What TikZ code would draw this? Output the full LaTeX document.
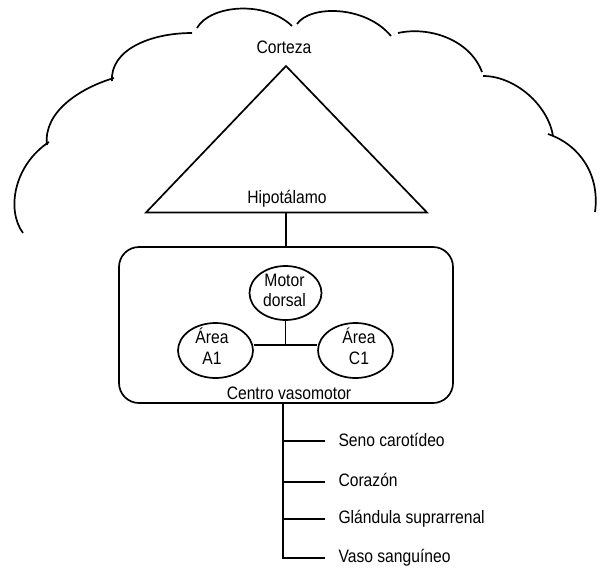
\documentclass[tikz,border=0pt]{standalone}
\usepackage{fontspec}
\setmainfont{Liberation Sans}[FakeStretch=0.87]
\usetikzlibrary{shapes.geometric}
\begin{document}
\begin{tikzpicture}[x=1pt,y=-1pt,
  ln/.style={line width=1.7pt},
  lbl/.style={inner sep=0pt,anchor=base,font=\fontsize{18}{20}\selectfont},
  itemlbl/.style={lbl,anchor=base west},
  oval/.style={ellipse,draw,ln,inner sep=0pt},
  ctrbox/.style={draw,ln,rounded corners=20pt,inner sep=0pt,
    minimum width=334pt,minimum height=156pt}]
\useasboundingbox (0,0) rectangle (601,570);

% cortex outline (cloud made of open arcs)
\draw[ln] (23,233) .. controls (6,210) and (14,165) .. (49,142);
\draw[ln] (47,145) .. controls (43,112) and (80,88) .. (114,78);
\draw[ln] (112,81) .. controls (110,50) and (150,33) .. (192,33);
\draw[ln] (197,28) .. controls (210,5) and (265,0) .. (292,26);
\draw[ln] (297,24) .. controls (310,5) and (365,5) .. (391,36);
\draw[ln] (398,33) .. controls (430,26) and (470,40) .. (482,72);
\draw[ln] (483,76) .. controls (515,76) and (548,105) .. (553,136);
\draw[ln] (548,134) .. controls (580,145) and (600,175) .. (595,212);
\node[lbl] (corteza) at (284,53.3) {Corteza};

% hypothalamus triangle
\coordinate (apex) at (286,66);
\coordinate (bl) at (146,212.5);
\coordinate (br) at (427,212.5);
\coordinate (hbase) at (286,212.5);
\draw[ln,line join=miter] (apex) -- (bl) -- (br) -- cycle;
\node[lbl] (hipo) at (287,203.3) {Hipotálamo};

% vasomotor centre
\node[ctrbox] (vc) at (286,325) {};
\draw[ln] (hbase) -- (vc.north);

\node[oval,minimum width=72pt,minimum height=54pt] (md) at (285.5,293) {};
\node[oval,minimum width=75pt,minimum height=55pt] (a1) at (215.5,350.5) {};
\node[oval,minimum width=75pt,minimum height=55pt] (c1) at (355.5,350.5) {};
\node[lbl] (mdt1) at (284.5,286.7) {Motor};
\node[lbl] (mdt2) at (284.5,306.7) {dorsal};
\node[lbl] (a1t1) at (212,343.3) {Área};
\node[lbl] (a1t2) at (212,364) {A1};
\node[lbl] (c1t1) at (359,343.3) {Área};
\node[lbl] (c1t2) at (359,364) {C1};
\node[lbl] (vct) at (289,399.3) {Centro vasomotor};

\coordinate (j) at (285.5,345);
\draw[ln] (md.south) -- (j);
\draw[ln] (j -| a1.east) -- (j -| c1.west);

% efferent targets
\coordinate (t1) at (283.3,441);
\coordinate (t2) at (283.3,482);
\coordinate (t3) at (283.3,519);
\coordinate (t4) at (283.3,558);
\node[itemlbl] (seno) at (338.3,446.3) {Seno carotídeo};
\node[itemlbl] (cor) at (338.3,486.7) {Corazón};
\node[itemlbl] (glan) at (338.3,523.6) {Glándula suprarrenal};
\node[itemlbl] (vaso) at (338.3,562) {Vaso sanguíneo};
\draw[ln] (vc.south -| t4) -- (t4) -- ([xshift=-13pt]t4 -| vaso.west);
\draw[ln] (t1) -- ([xshift=-13pt]t1 -| seno.west);
\draw[ln] (t2) -- ([xshift=-13pt]t2 -| cor.west);
\draw[ln] (t3) -- ([xshift=-13pt]t3 -| glan.west);
\end{tikzpicture}
\end{document}
